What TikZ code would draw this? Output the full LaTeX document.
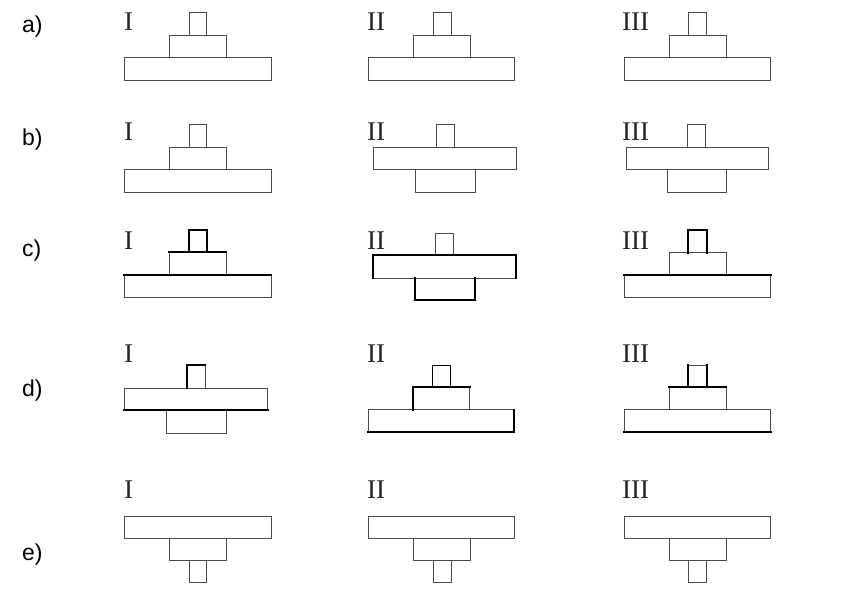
\documentclass[tikz,border=0pt]{standalone}
\usepackage{fontspec}
\setmainfont{Liberation Serif}
\newfontfamily\rowfont{Liberation Sans}
\tikzset{
  thinline/.style={draw=black!70, line width=1pt},
  thickline/.style={draw=black, line width=1.7pt, line cap=rect},
  roman/.style={anchor=base west, inner sep=0pt, font=\fontsize{27}{27}\selectfont, text=black!85},
  rowlab/.style={anchor=base west, inner sep=0pt, font=\rowfont\fontsize{23}{23}\selectfont}
}
\begin{document}
\begin{tikzpicture}[x=1pt,y=-1pt]
\useasboundingbox[fill=white] (0,0) rectangle (859,589);
% row labels
\node[rowlab] (la) at (22,32) {a)};
\node[rowlab] (lb) at (22,145) {b)};
\node[rowlab] (lc) at (22,256) {c)};
\node[rowlab] (ld) at (22,396) {d)};
\node[rowlab] (le) at (22,560) {e)};
% roman labels
\foreach \r/\b in {a/30,b/140,c/249,d/362,e/498}{
  \node[roman] (\r1) at (124,\b) {I};
  \node[roman] (\r2) at (367,\b) {II};
  \node[roman] (\r3) at (622,\b) {III};
}
% ---------- row a
\draw[thinline] (189.5,12.7) rectangle (206.5,35);
\draw[thinline] (169.5,35) rectangle (226,57.3);
\draw[thinline] (124.5,57.3) rectangle (271,80);
\draw[thinline] (433.5,12.7) rectangle (451,35);
\draw[thinline] (413.5,35) rectangle (470,57.3);
\draw[thinline] (368.5,57.3) rectangle (514.5,80);
\draw[thinline] (688.5,12.7) rectangle (706.5,35);
\draw[thinline] (669.5,35) rectangle (726,57.3);
\draw[thinline] (624.5,57.3) rectangle (770.5,80);
% ---------- row b
\draw[thinline] (189.5,124.7) rectangle (206.5,147.7);
\draw[thinline] (169.5,147.7) rectangle (226,169.7);
\draw[thinline] (124.5,169.7) rectangle (271,192.3);
\draw[thinline] (436,124.7) rectangle (454.3,147.7);
\draw[thinline] (373.7,147.7) rectangle (516.7,169.7);
\draw[thinline] (415.3,169.7) rectangle (475,192.3);
\draw[thinline] (687,124.7) rectangle (705.3,147.7);
\draw[thinline] (626,147.7) rectangle (768.5,169.7);
\draw[thinline] (667.5,169.7) rectangle (726.5,192.3);
% ---------- row c
\draw[thinline] (188.7,230) rectangle (207.3,252.3);
\draw[thinline] (169.3,252.3) rectangle (226,275);
\draw[thinline] (124.3,275) rectangle (271,297.7);
\draw[thickline] (188.7,252.3) -- (188.7,230) -- (207.3,230) -- (207.3,252.3);
\draw[thickline] (169.3,252.3) -- (226,252.3);
\draw[thickline] (124.3,275) -- (271,275);
\draw[thinline] (435.3,233.3) rectangle (453.7,255);
\draw[thinline] (372.7,255) rectangle (516.3,278);
\draw[thinline] (415,278) rectangle (475,300);
\draw[thickline] (372.7,278) -- (372.7,255) -- (516.3,255) -- (516.3,278);
\draw[thickline] (415,278) -- (415,300) -- (475,300) -- (475,278);
\draw[thinline] (688.3,230.3) rectangle (707,252.7);
\draw[thinline] (669.3,252.7) rectangle (726,275);
\draw[thinline] (624.3,275) rectangle (770.7,297.7);
\draw[thickline] (688.3,252.7) -- (688.3,230.3) -- (707,230.3) -- (707,252.7);
\draw[thickline] (624.3,275) -- (770.7,275);
% ---------- row d
\draw[thinline] (187.3,365.3) rectangle (205.3,388);
\draw[thinline] (124.3,388) rectangle (267.7,410.3);
\draw[thinline] (166.3,410.3) rectangle (226,433);
\draw[thickline] (187.3,388) -- (187.3,365.3) -- (205.3,365.3);
\draw[thickline] (124.3,410.3) -- (267.7,410.3);
\draw[thinline] (432.3,365.3) rectangle (450.7,387.3);
\draw[thinline] (413.3,387.3) rectangle (469.7,409.7);
\draw[thinline] (368.3,409.7) rectangle (514.3,432.3);
\draw[thickline, line width=1.4pt] (432.3,387.3) -- (432.3,365.3) -- (450.7,365.3) -- (450.7,387.3);
\draw[thickline] (413.3,409.7) -- (413.3,387.3) -- (469.7,387.3);
\draw[thickline] (514.3,409.7) -- (514.3,432.3) -- (368.3,432.3);
\draw[thinline] (688.3,365.3) rectangle (707,387.3);
\draw[thinline] (669.3,387.3) rectangle (726,409.7);
\draw[thinline] (624.3,409.7) rectangle (770.7,432.3);
\draw[thickline] (688.3,387.3) -- (688.3,365.3);
\draw[thickline] (707,387.3) -- (707,365.3);
\draw[thickline] (669.3,387.3) -- (726,387.3);
\draw[thickline] (624.3,432.3) -- (770.7,432.3);
% ---------- row e
\draw[thinline] (124.5,516) rectangle (271,538.3);
\draw[thinline] (169.5,538.3) rectangle (226,560.7);
\draw[thinline] (189.5,560.7) rectangle (206.5,582.7);
\draw[thinline] (368.5,516) rectangle (514.5,538.3);
\draw[thinline] (413.5,538.3) rectangle (470,560.7);
\draw[thinline] (433.5,560.7) rectangle (451,582.7);
\draw[thinline] (624.5,516) rectangle (770.5,538.3);
\draw[thinline] (669.5,538.3) rectangle (726,560.7);
\draw[thinline] (688.5,560.7) rectangle (706.5,582.7);
\end{tikzpicture}
\end{document}
